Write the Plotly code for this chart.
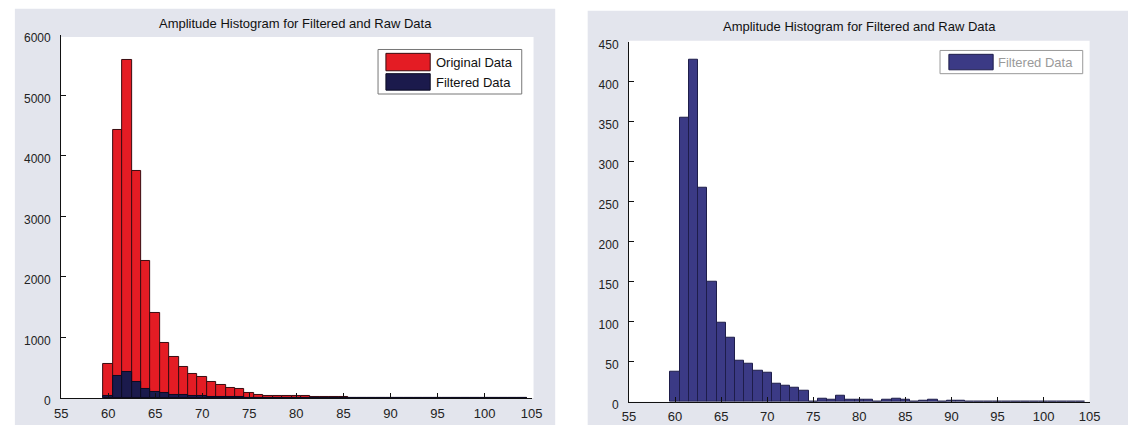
import plotly.graph_objects as go

# ---------------- data ----------------
bin_centers = list(range(60, 105))
original_counts = [565, 4430, 5590, 3745, 2265, 1410, 900, 685, 505, 395,
                   345, 265, 220, 165, 140, 75, 55, 40, 35, 33,
                   28, 25, 22, 20, 18, 16, 6, 5, 5, 4,
                   4, 3, 3, 3, 3, 2, 2, 2, 2, 2,
                   2, 1, 1, 0, 0]
filtered_counts = [38, 355, 428, 268, 150, 99, 80, 51, 47, 39,
                   36, 22, 20, 17, 14, 0, 4, 3, 7, 3,
                   3, 2, 0, 3, 4, 3, 0, 1, 3, 0,
                   1, 1, 0, 0, 0, 0, 0, 0, 0, 0,
                   0, 0, 0, 0, 0]
x_ticks = [55, 60, 65, 70, 75, 80, 85, 90, 95, 100, 105]
left_y_ticks = [0, 1000, 2000, 3000, 4000, 5000, 6000]
right_y_ticks = [0, 50, 100, 150, 200, 250, 300, 350, 400, 450]
title_text = "Amplitude Histogram for Filtered and Raw Data"
legend_left = ["Original Data", "Filtered Data"]
legend_right = ["Filtered Data"]

# ---------------- style ----------------
W, H = 1139, 435
RED = "#e41c24"
NAVY = "#1b1a4c"
SLATE = "#3b3a85"
PANEL = "#e3e5ed"
FONT = "Liberation Sans, Arial, sans-serif"


def px(x):
    return x / W


def py(y):
    return 1 - y / H


fig = go.Figure()

fig.add_trace(go.Bar(x=bin_centers, y=original_counts, width=1,
                     marker=dict(color=RED, line=dict(color="#3a0c10", width=1)),
                     name=legend_left[0], xaxis="x", yaxis="y", showlegend=False))
fig.add_trace(go.Bar(x=bin_centers, y=filtered_counts, width=1,
                     marker=dict(color=NAVY, line=dict(color="#0c0c22", width=1)),
                     name=legend_left[1], xaxis="x", yaxis="y", showlegend=False))
fig.add_trace(go.Bar(x=bin_centers, y=filtered_counts, width=1,
                     marker=dict(color=SLATE, line=dict(color="#1e1d4a", width=1)),
                     name=legend_right[0], xaxis="x2", yaxis="y2", showlegend=False))

# plot-area geometry in pixels
L = dict(x0=55, x1=533, y0=32, y1=407)
R = dict(x0=632, x1=1100, y0=39, y1=411)

axis_common = dict(showline=True, linecolor="#111", linewidth=1, mirror=False,
                   ticks="inside", ticklen=5, tickcolor="#111", showgrid=False,
                   zeroline=False)
xfont = dict(family=FONT, size=13, color="#222")
yfont = dict(family=FONT, size=12, color="#222")

fig.update_layout(
    width=W, height=H,
    margin=dict(l=0, r=0, t=0, b=0),
    paper_bgcolor="white", plot_bgcolor="rgba(0,0,0,0)",
    barmode="overlay", bargap=0,
    showlegend=False,
    font=dict(family=FONT, color="#111"),
    xaxis=dict(domain=[px(L["x0"]), px(L["x1"])], range=[55, 105],
               tickvals=x_ticks, anchor="y", ticklabelstandoff=3,
               tickfont=xfont, **axis_common),
    yaxis=dict(domain=[py(L["y1"]), py(L["y0"])], range=[0, 6000],
               tickvals=left_y_ticks, anchor="x", ticklabelshift=3,
               ticklabelstandoff=7, tickfont=yfont, **axis_common),
    xaxis2=dict(domain=[px(R["x0"]), px(R["x1"])], range=[55, 105],
                tickvals=x_ticks, anchor="y2", ticklabelstandoff=3,
                tickfont=xfont, **axis_common),
    yaxis2=dict(domain=[py(R["y1"]), py(R["y0"])], range=[0, 450],
                tickvals=right_y_ticks, anchor="x2", ticklabelshift=3,
                ticklabelstandoff=7, tickfont=yfont, **axis_common),
)

shapes = []
# gray figure panels
shapes.append(dict(type="rect", xref="paper", yref="paper", layer="below",
                   x0=px(8), x1=px(557), y0=py(435), y1=py(5),
                   fillcolor=PANEL, line=dict(width=0)))
shapes.append(dict(type="rect", xref="paper", yref="paper", layer="below",
                   x0=px(590), x1=px(1139), y0=py(435), y1=py(7),
                   fillcolor=PANEL, line=dict(width=0)))
# white axes backgrounds
shapes.append(dict(type="rect", xref="paper", yref="paper", layer="below",
                   x0=px(L["x0"]), x1=px(535), y0=py(L["y1"]), y1=py(34),
                   fillcolor="white", line=dict(width=0)))
shapes.append(dict(type="rect", xref="paper", yref="paper", layer="below",
                   x0=px(R["x0"]), x1=px(R["x1"]), y0=py(R["y1"]), y1=py(38),
                   fillcolor="white", line=dict(width=0)))
# left legend box + swatches
shapes.append(dict(type="rect", xref="paper", yref="paper",
                   x0=px(377), x1=px(523), y0=py(93), y1=py(47),
                   fillcolor="white", line=dict(color="#777", width=1)))
shapes.append(dict(type="rect", xref="paper", yref="paper",
                   x0=px(385), x1=px(430), y0=py(69), y1=py(51),
                   fillcolor=RED, line=dict(color="#3a0c10", width=1)))
shapes.append(dict(type="rect", xref="paper", yref="paper",
                   x0=px(385), x1=px(430), y0=py(89), y1=py(72),
                   fillcolor=NAVY, line=dict(color="#0c0c22", width=1)))
# right legend box + swatch
shapes.append(dict(type="rect", xref="paper", yref="paper",
                   x0=px(948), x1=px(1093), y0=py(72), y1=py(48),
                   fillcolor="white", line=dict(color="#999", width=1)))
shapes.append(dict(type="rect", xref="paper", yref="paper",
                   x0=px(957), x1=px(1002), y0=py(68), y1=py(52),
                   fillcolor=SLATE, line=dict(color="#1e1d4a", width=1)))
fig.update_layout(shapes=shapes)

annotations = [
    dict(text=title_text, x=px(293), y=py(20), xref="paper", yref="paper",
         showarrow=False, xanchor="center", yanchor="middle",
         font=dict(family=FONT, size=13, color="#111")),
    dict(text=title_text, x=px(866), y=py(23), xref="paper", yref="paper",
         showarrow=False, xanchor="center", yanchor="middle",
         font=dict(family=FONT, size=13, color="#111")),
    dict(text=legend_left[0], x=px(434), y=py(60), xref="paper", yref="paper",
         showarrow=False, xanchor="left", yanchor="middle",
         font=dict(family=FONT, size=13, color="#111")),
    dict(text=legend_left[1], x=px(434), y=py(81), xref="paper", yref="paper",
         showarrow=False, xanchor="left", yanchor="middle",
         font=dict(family=FONT, size=13, color="#111")),
    dict(text=legend_right[0], x=px(1005), y=py(60), xref="paper", yref="paper",
         showarrow=False, xanchor="left", yanchor="middle",
         font=dict(family=FONT, size=13, color="#9a9a9a")),
]
fig.update_layout(annotations=annotations)

fig.write_html("out.html")
